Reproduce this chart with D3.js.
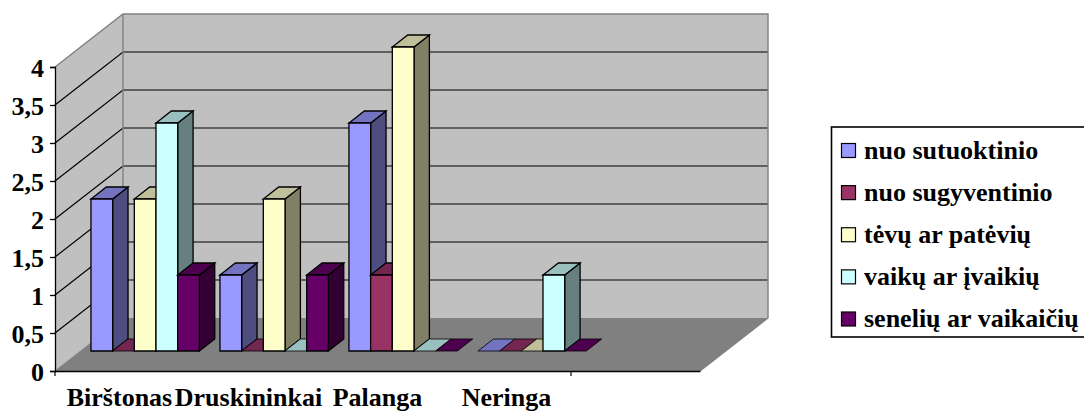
<!DOCTYPE html>
<html><head><meta charset="utf-8">
<style>html,body{margin:0;padding:0;background:#fff;overflow:hidden}svg{display:block}text{font-family:"Liberation Serif",serif;font-weight:bold;fill:#000}</style>
<script src="https://cdn.jsdelivr.net/npm/d3@7"></script></head><body>
<script>
const categories = ["Birštonas","Druskininkai","Palanga","Neringa",""];
const seriesNames = ["nuo sutuoktinio","nuo sugyventinio","tėvų ar patėvių","vaikų ar įvaikių","senelių ar vaikaičių"];
const nuoSutuoktinio = [2,1,3,0];
const nuoSugyventinio = [0,0,1,0];
const tevu = [2,2,4,0];
const vaiku = [3,0,0,1];
const seneliu = [1,1,0,0];
const seriesValues = [nuoSutuoktinio,nuoSugyventinio,tevu,vaiku,seneliu];
const valueTicks = [0,0.5,1,1.5,2,2.5,3,3.5,4];
const frontColors = ["#9999FF","#993366","#FFFFCC","#CCFFFF","#660066"];
const topColors = ["#7373BF","#732650","#BFBF99","#99BFBF","#4D004D"];
const sideColors = ["#4D4D80","#4D1A33","#808066","#668080","#330033"];

const W=1084,H=412, depthX=68, depthY=53;
const svg=d3.select("body").append("svg").attr("width",W).attr("height",H);
const x=d3.scaleBand().domain(categories).range([55,700]).paddingInner(0).paddingOuter(0);
const y=d3.scaleLinear().domain([0,4]).range([371,67]);
const P=(px,py,z)=>[px+depthX*z,py-depthY*z];
const poly=(pts,fill,stroke,sw)=>svg.append("polygon").attr("points",pts.map(p=>p.join(",")).join(" "))
  .attr("fill",fill).attr("stroke",stroke||"none").attr("stroke-width",sw||0).attr("stroke-linejoin","miter");

// walls & floor
const x0=55,x1=700,y0=y(0),yT=y(4);
poly([P(x0,y0,0),P(x0,y0,1),P(x0,yT,1),P(x0,yT,0)],"#C0C0C0");
poly([P(x0,yT,1),P(x1,yT,1),P(x1,y0,1),P(x0,y0,1)],"#C0C0C0");
poly([P(x0,y0,0),P(x1,y0,0),P(x1,y0,1),P(x0,y0,1)],"#808080");
// gridlines
valueTicks.filter(v=>v>0&&v<4).forEach(v=>{
  const a=P(x0,y(v),0),b=P(x0,y(v),1),c=P(x1,y(v),1);
  svg.append("polyline").attr("points",[a,b,c].map(p=>p.join(",")).join(" ")).attr("fill","none").attr("stroke","#000").attr("stroke-width",1.2);
});
// gray wall edges
svg.append("polyline").attr("points",[P(x0,yT,0),P(x0,yT,1),P(x1,yT,1),P(x1,y0,1),P(x1,y0,0)].map(p=>p.join(",")).join(" ")).attr("fill","none").attr("stroke","#808080").attr("stroke-width",1.4);
svg.append("line").attr("x1",P(x0,y0,1)[0]).attr("x2",P(x0,yT,1)[0]).attr("y1",P(x0,y0,1)[1]).attr("y2",P(x0,yT,1)[1]).attr("stroke","#808080").attr("stroke-width",1.4);
svg.append("line").attr("x1",x0).attr("y1",y0).attr("x2",P(x0,y0,1)[0]).attr("y2",P(x0,y0,1)[1]).attr("stroke","#808080").attr("stroke-width",1);

// bars
const zF=20/53, zB=32/53, pad=10.3, barW=(x.bandwidth()-2*pad)/5;
categories.slice(0,4).forEach((c,ci)=>{
  seriesValues.forEach((vals,si)=>{
    const v=vals[ci], l=x(c)+pad+si*barW, r=l+barW, yb=y(0), yt=y(v);
    const sw=1.3;
    if(v>0) poly([P(r,yb,zF),P(r,yb,zB),P(r,yt,zB),P(r,yt,zF)],sideColors[si],"#000",sw);
    poly([P(l,yt,zF),P(r,yt,zF),P(r,yt,zB),P(l,yt,zB)],topColors[si],"#000",v>0?sw:0.8);
    if(v>0) poly([P(l,yb,zF),P(r,yb,zF),P(r,yt,zF),P(l,yt,zF)],frontColors[si],"#000",sw);
  });
});

// axes
const yAxis=d3.axisLeft(y).tickValues(valueTicks).tickSize(5).tickFormat(d=>String(d).replace(".",","));
const gy=svg.append("g").attr("transform","translate(55,0)").call(yAxis);
gy.selectAll("path,line").attr("stroke","#000").attr("stroke-width",1.3);
gy.selectAll("text").attr("font-size",26).attr("font-family","Liberation Serif").attr("x",-11).attr("dy","0.38em").attr("fill","#000");
const xAxis=d3.axisBottom(x).tickSize(5).tickSizeOuter(0).tickFormat(d=>d);
const gx=svg.append("g").attr("transform","translate(0,371)").call(xAxis);
gx.selectAll(".tick line").remove();
gx.select("path").attr("stroke","#000").attr("stroke-width",1.6);
gx.selectAll(".tick text").attr("font-size",26).attr("font-family","Liberation Serif").attr("y",34.5).attr("dy",0).attr("fill","#000");
[x(categories[0]),x(categories[3])+x.bandwidth()].forEach(t=>svg.append("line").attr("x1",t).attr("x2",t).attr("y1",371).attr("y2",376).attr("stroke","#000").attr("stroke-width",1.2));

// legend
const lg=svg.append("g");
lg.append("rect").attr("x",831.5).attr("y",127).attr("width",260).attr("height",210).attr("fill","#fff").attr("stroke","#000").attr("stroke-width",1.6);
const ly=d3.scalePoint().domain(seriesNames).range([150.5,319]);
seriesNames.forEach((n,i)=>{
  lg.append("rect").attr("x",841.5).attr("y",ly(n)-7).attr("width",14).attr("height",14).attr("fill",frontColors[i]).attr("stroke","#000").attr("stroke-width",1.2);
  lg.append("text").attr("x",864).attr("y",ly(n)+8).attr("font-size",26).text(n);
});
</script></body></html>
